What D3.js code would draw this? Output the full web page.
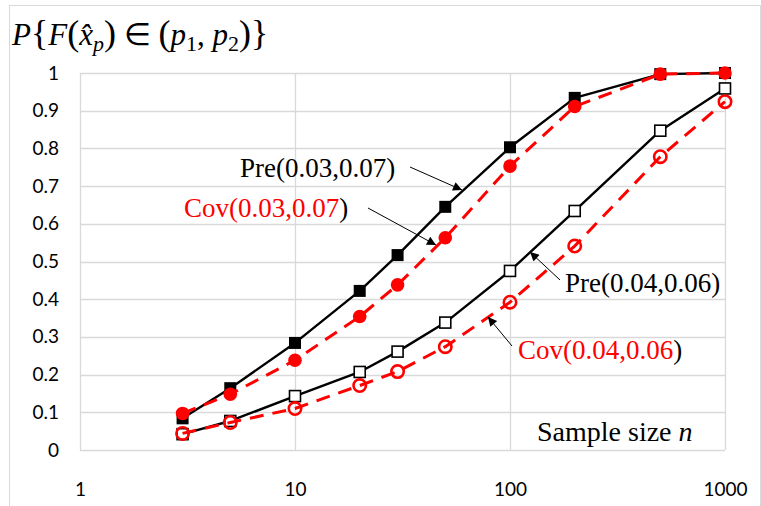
<!DOCTYPE html>
<html>
<head>
<meta charset="utf-8">
<script src="https://cdn.jsdelivr.net/npm/d3@7"></script>
<style>
  body { margin: 0; background: #fff; }
  text { font-family: Lato, "Noto Sans", sans-serif; }
  .serif { font-family: "Liberation Serif", "Times New Roman", serif; }
</style>
</head>
<body>
<script>
// sample sizes and probabilities
var sizes = [3, 5, 10, 20, 30, 50, 100, 200, 500, 1000];
var pre37 = [0.084, 0.164, 0.284, 0.422, 0.517, 0.645, 0.803, 0.934, 0.997, 1.0];
var cov37 = [0.097, 0.148, 0.238, 0.354, 0.438, 0.563, 0.753, 0.911, 0.997, 1.0];
var pre46 = [0.042, 0.077, 0.143, 0.207, 0.261, 0.338, 0.475, 0.634, 0.847, 0.959];
var cov46 = [0.044, 0.073, 0.11, 0.171, 0.208, 0.274, 0.392, 0.541, 0.778, 0.924];
var xTicks = [1, 10, 100, 1000];
var yTicks = [0, 0.1, 0.2, 0.3, 0.4, 0.5, 0.6, 0.7, 0.8, 0.9, 1];

var w = 761, h = 506;
var pLeft = 80, pRight = 725, pTop = 73, pBottom = 450;

var svg = d3.select("body").append("svg")
  .attr("width", w)
  .attr("height", h);

// outer frame
svg.append("rect")
  .attr("x", 9.5).attr("y", 5.5)
  .attr("width", w - 10).attr("height", h - 4)
  .attr("fill", "white")
  .attr("stroke", "#d9d9d9");

var x = d3.scaleLog().domain([1, 1000]).range([pLeft, pRight]);
var y = d3.scaleLinear().domain([0, 1]).range([pBottom, pTop]);

// grid
var grid = svg.append("g");
grid.selectAll(".hg").data(yTicks).enter().append("line")
  .attr("x1", pLeft).attr("x2", pRight)
  .attr("y1", function(d) { return Math.round(y(d)) + 0.5; })
  .attr("y2", function(d) { return Math.round(y(d)) + 0.5; })
  .attr("stroke", "#d9d9d9").attr("stroke-width", 1.3);
grid.selectAll(".vg").data(xTicks).enter().append("line")
  .attr("y1", pTop).attr("y2", pBottom)
  .attr("x1", function(d) { return Math.round(x(d)) + 0.5; })
  .attr("x2", function(d) { return Math.round(x(d)) + 0.5; })
  .attr("stroke", "#d9d9d9").attr("stroke-width", 1.3);

// axes labels
var yAxis = d3.axisLeft(y).tickValues(yTicks).tickSize(0).tickPadding(21)
  .tickFormat(function(d) { return String(+d.toFixed(1)); });
var gy = svg.append("g").attr("transform", "translate(" + pLeft + ",0)").call(yAxis);
gy.select(".domain").remove();
gy.selectAll("text").style("font-size", "19px").attr("fill", "#000")
  .style("font-family", "Lato, sans-serif");

var xAxis = d3.axisBottom(x).tickValues(xTicks).tickSize(0).tickPadding(33)
  .tickFormat(d3.format("d"));
var gx = svg.append("g").attr("transform", "translate(0," + pBottom + ")").call(xAxis);
gx.select(".domain").remove();
gx.selectAll("text").style("font-size", "19px").attr("fill", "#000")
  .style("font-family", "Lato, sans-serif");

// series
function pts(vals) {
  return sizes.map(function(n, i) { return [n, vals[i]]; });
}
var line = d3.line()
  .x(function(d) { return x(d[0]); })
  .y(function(d) { return y(d[1]); });

function drawLine(vals, color, dash, width) {
  svg.append("path")
    .attr("d", line(pts(vals)))
    .attr("fill", "none")
    .attr("stroke", color)
    .attr("stroke-width", width)
    .attr("stroke-linejoin", "round")
    .attr("stroke-dasharray", dash);
}
function squares(vals, filled, size) {
  svg.append("g").selectAll("rect").data(pts(vals)).enter().append("rect")
    .attr("x", function(d) { return x(d[0]) - size / 2; })
    .attr("y", function(d) { return y(d[1]) - size / 2; })
    .attr("width", size).attr("height", size)
    .attr("fill", filled ? "#000" : "#fff")
    .attr("stroke", "#000")
    .attr("stroke-width", filled ? 0 : 1.6);
}
function circles(vals, filled, r) {
  svg.append("g").selectAll("circle").data(pts(vals)).enter().append("circle")
    .attr("cx", function(d) { return x(d[0]); })
    .attr("cy", function(d) { return y(d[1]); })
    .attr("r", r)
    .attr("fill", filled ? "#ff0000" : "none")
    .attr("stroke", "#ff0000")
    .attr("stroke-width", filled ? 0 : 2.6);
}

drawLine(pre46, "#000", null, 2.4);
squares(pre46, false, 11);
drawLine(cov46, "#ff0000", "14,9", 3);
circles(cov46, false, 6.2);
drawLine(pre37, "#000", null, 2.4);
squares(pre37, true, 12);
drawLine(cov37, "#ff0000", "14,9", 3);
circles(cov37, true, 6.8);

// arrows
svg.append("defs").append("marker")
  .attr("id", "ah").attr("viewBox", "0 0 10 10")
  .attr("refX", 10).attr("refY", 5)
  .attr("markerWidth", 11).attr("markerHeight", 9)
  .attr("markerUnits", "userSpaceOnUse")
  .attr("orient", "auto")
  .append("path").attr("d", "M0,0 L10,5 L0,10 z").attr("fill", "#000");

var arrows = [
  [410, 167, 462, 190],
  [368, 208, 436, 245],
  [560, 280, 530, 252],
  [512, 346, 488, 317]
];
svg.selectAll(".arr").data(arrows).enter().append("line")
  .attr("x1", function(d) { return d[0]; }).attr("y1", function(d) { return d[1]; })
  .attr("x2", function(d) { return d[2]; }).attr("y2", function(d) { return d[3]; })
  .attr("stroke", "#000").attr("stroke-width", 1)
  .attr("marker-end", "url(#ah)");

// annotations
function label(tx, ty, name, color) {
  var t = svg.append("text").attr("class", "serif")
    .attr("x", tx).attr("y", ty)
    .style("font-size", "27px");
  t.append("tspan").attr("fill", color).text(name);
  t.append("tspan").attr("fill", "#000").text(")");
}
label(240, 177, "Pre(0.03,0.07", "#000");
label(184, 217, "Cov(0.03,0.07", "#ff0000");
label(565, 292, "Pre(0.04,0.06", "#000");
label(518, 359, "Cov(0.04,0.06", "#ff0000");

var xl = svg.append("text").attr("class", "serif")
  .attr("x", 537).attr("y", 441).style("font-size", "28px").attr("fill", "#000");
xl.append("tspan").text("Sample size ");
xl.append("tspan").style("font-style", "italic").text("n");

// y-axis title
var yt = svg.append("text").attr("class", "serif")
  .attr("x", 12).attr("y", 45).style("font-size", "31px").attr("fill", "#000");
yt.append("tspan").style("font-style", "italic").text("P");
yt.append("tspan").style("font-size", "36px").text("{");
yt.append("tspan").style("font-style", "italic").text("F");
yt.append("tspan").style("font-size", "36px").text("(");
yt.append("tspan").style("font-style", "italic").text("x\u0302");
yt.append("tspan").style("font-style", "italic").style("font-size", "22px").attr("dy", 6).text("p");
yt.append("tspan").style("font-size", "36px").attr("dy", -6).text(")");
yt.append("tspan").text(" \u2208 ");
yt.append("tspan").style("font-size", "36px").text("(");
yt.append("tspan").style("font-style", "italic").text("p");
yt.append("tspan").style("font-size", "22px").attr("dy", 6).text("1");
yt.append("tspan").attr("dy", -6).text(", ");
yt.append("tspan").style("font-style", "italic").text("p");
yt.append("tspan").style("font-size", "22px").attr("dy", 6).text("2");
yt.append("tspan").style("font-size", "36px").attr("dy", -6).text(")");
yt.append("tspan").style("font-size", "36px").text("}");
</script>
</body>
</html>
